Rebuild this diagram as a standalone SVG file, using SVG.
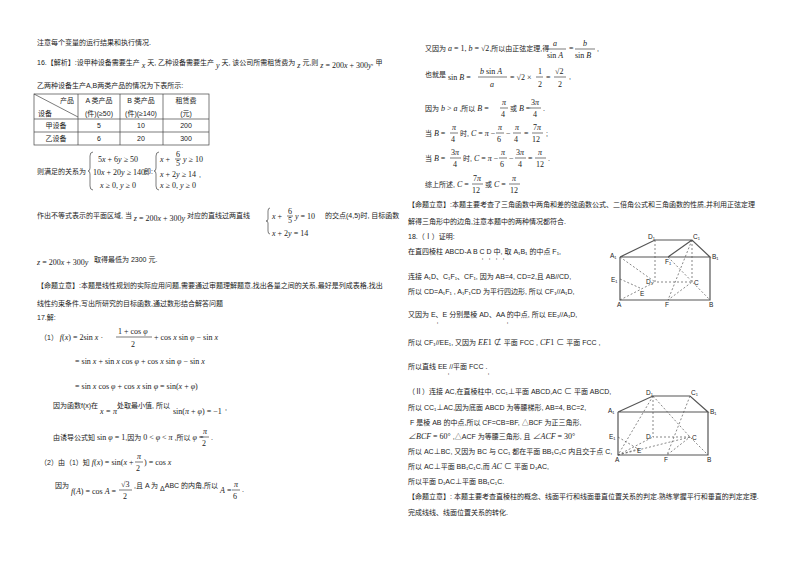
<svg xmlns="http://www.w3.org/2000/svg" width="800" height="565" viewBox="0 0 800 565">
<style>
text{font-family:"Liberation Sans","Noto Sans CJK SC",sans-serif;font-size:7px;fill:#222}
.m{font-family:"Liberation Serif","Noto Sans CJK SC",serif;font-size:8px}
.i{font-style:italic}
.s{stroke:#555;stroke-width:1.2;fill:none}
.d{stroke:#555;stroke-width:0.7;stroke-dasharray:2,2;fill:none}
.t{stroke:#444;stroke-width:0.7;fill:none}
.l{font-size:6.5px}
.k{font-size:4px}
</style>
<rect width="800" height="565" fill="#fff"/>
<!-- left column -->
<text x="37" y="45">注意每个变量的运行结果和执行情况.</text>
<text x="37" y="65">16.【解析】:设甲种设备需要生产 <tspan class="m i" dy="3">x</tspan><tspan dy="-3"> 天, 乙种设备需要生产 </tspan><tspan class="m i" dy="3">y</tspan><tspan dy="-3"> 天, 该公司所需租赁费为 </tspan><tspan class="m i" dy="3">z</tspan><tspan dy="-3"> 元,则 </tspan><tspan class="m i" dy="3">z</tspan><tspan class="m" dx="2">= 200</tspan><tspan class="m i">x</tspan><tspan class="m"> + 300</tspan><tspan class="m i">y</tspan><tspan dy="-3">, 甲</tspan></text>
<text x="37" y="88">乙两种设备生产A,B两类产品的情况为下表所示:</text>
<g id="table">
<rect class="t" x="34" y="94" width="175" height="51"/>
<line class="t" x1="34" y1="119" x2="209" y2="119"/>
<line class="t" x1="34" y1="132" x2="209" y2="132"/>
<line class="t" x1="78" y1="94" x2="78" y2="145"/>
<line class="t" x1="120" y1="94" x2="120" y2="145"/>
<line class="t" x1="163" y1="94" x2="163" y2="145"/>
<line class="t" x1="34" y1="94" x2="78" y2="117"/>
<text x="60" y="103">产品</text><text x="38" y="116">设备</text>
<text x="99" y="103" text-anchor="middle">A 类产品</text><text x="99" y="116" text-anchor="middle">(件)(≥50)</text>
<text x="141" y="103" text-anchor="middle">B 类产品</text><text x="141" y="116" text-anchor="middle">(件)(≥140)</text>
<text x="186" y="103" text-anchor="middle">租赁费</text><text x="186" y="116" text-anchor="middle">(元)</text>
<text x="56" y="128" text-anchor="middle">甲设备</text><text x="99" y="128" text-anchor="middle">5</text><text x="141" y="128" text-anchor="middle">10</text><text x="186" y="128" text-anchor="middle">200</text>
<text x="56" y="141" text-anchor="middle">乙设备</text><text x="99" y="141" text-anchor="middle">6</text><text x="141" y="141" text-anchor="middle">20</text><text x="186" y="141" text-anchor="middle">300</text>
</g>
<text x="37" y="174">则满足的关系为</text>
<path class="t" d="M93,152 q-3,0 -3,4 v12 q0,3 -2,3 q2,0 2,3 v12 q0,4 3,4"/>
<text class="m" x="98" y="162" font-size="7.5">5<tspan class="i">x</tspan> + 6<tspan class="i">y</tspan> ≥ 50</text>
<text class="m" x="93" y="175" font-size="7.5">10<tspan class="i">x</tspan> + 20<tspan class="i">y</tspan> ≥ 140</text>
<text class="m" x="100" y="188" font-size="7.5"><tspan class="i">x</tspan> ≥ 0, <tspan class="i">y</tspan> ≥ 0</text>
<text x="144" y="174">即:</text>
<path class="t" d="M159,152 q-3,0 -3,4 v12 q0,3 -2,3 q2,0 2,3 v12 q0,4 3,4"/>
<text class="m" x="160" y="162"><tspan class="i">x</tspan> + </text><text class="m" x="176" y="157" font-size="6">6</text><line class="t" x1="175" y1="159" x2="181" y2="159"/><text class="m" x="176" y="166" font-size="6">5</text><text class="m" x="183" y="162"><tspan class="i">y</tspan> ≥ 10</text>
<text class="m" x="160" y="177"><tspan class="i">x</tspan> + 2<tspan class="i">y</tspan> ≥ 14</text><text x="199" y="177">,</text>
<text class="m" x="160" y="188"><tspan class="i">x</tspan> ≥ 0, <tspan class="i">y</tspan> ≥ 0</text>

<text x="37" y="218">作出不等式表示的平面区域, 当 <tspan class="m i" dy="3">z</tspan><tspan class="m"> = 200</tspan><tspan class="m i">x</tspan><tspan class="m"> + 300</tspan><tspan class="m i">y</tspan><tspan dy="-3"> 对应的直线过两直线</tspan></text>
<path class="t" d="M270,208 q-2,0 -2,3 v8 q0,2 -2,2 q2,0 2,2 v8 q0,3 2,3"/>
<text class="m" x="272" y="219"><tspan class="i">x</tspan> + </text><text class="m" x="288" y="214" font-size="6">6</text><line class="t" x1="287" y1="216" x2="293" y2="216"/><text class="m" x="288" y="223" font-size="6">5</text><text class="m" x="295" y="219"><tspan class="i">y</tspan> = 10</text>
<text class="m" x="272" y="236"><tspan class="i">x</tspan> + 2<tspan class="i">y</tspan> = 14</text>
<text x="325" y="218">的交点(4,5)时, 目标函数</text>
<text class="m" x="37" y="265"><tspan class="i">z</tspan> = 200<tspan class="i">x</tspan> + 300<tspan class="i">y</tspan></text><text x="94" y="262">取得最低为 2300 元.</text>
<text x="37" y="288">【命题立意】:本题是线性规划的实际应用问题,需要通过审题理解题意,找出各量之间的关系,最好是列成表格,找出</text>
<text x="37" y="306">线性约束条件,写出所研究的目标函数,通过数形结合解答问题</text>
<text x="37" y="320">17.解:</text>
<text x="40" y="340">（1） <tspan class="m i">f</tspan><tspan class="m">(</tspan><tspan class="m i">x</tspan><tspan class="m">) = 2sin </tspan><tspan class="m i">x</tspan><tspan class="m"> ·</tspan></text>
<text class="m" x="118" y="334">1 + cos <tspan class="i">φ</tspan></text><line class="t" x1="116" y1="337" x2="152" y2="337"/><text class="m" x="131" y="347">2</text>
<text class="m" x="154" y="340">+ cos <tspan class="i">x</tspan> sin <tspan class="i">φ</tspan> − sin <tspan class="i">x</tspan></text>
<text class="m" x="75" y="364">= sin <tspan class="i">x</tspan> + sin <tspan class="i">x</tspan> cos <tspan class="i">φ</tspan> + cos <tspan class="i">x</tspan> sin <tspan class="i">φ</tspan> − sin <tspan class="i">x</tspan></text>
<text class="m" x="75" y="389">= sin <tspan class="i">x</tspan> cos <tspan class="i">φ</tspan> + cos <tspan class="i">x</tspan> sin <tspan class="i">φ</tspan>   = sin(<tspan class="i">x</tspan> + <tspan class="i">φ</tspan>)</text>
<text x="53" y="408">因为函数f(x)在</text><text class="m i" x="100" y="414">x = π</text><text x="117" y="408">处取最小值, 所以</text><text class="m" x="173" y="414">sin(<tspan class="i">π</tspan> + <tspan class="i">φ</tspan>) = −1</text><text x="225" y="410">,</text>
<text x="53" y="440">由诱导公式知 <tspan class="m">sin </tspan><tspan class="m i">φ</tspan><tspan class="m"> = 1</tspan>,因为 <tspan class="m">0 &lt; </tspan><tspan class="m i">φ</tspan><tspan class="m"> &lt; </tspan><tspan class="m i">π</tspan> ,所以 <tspan class="m i">φ</tspan><tspan class="m"> = </tspan></text>
<text class="m i" x="203" y="434">π</text><line class="t" x1="201" y1="437" x2="209" y2="437"/><text class="m" x="202" y="446">2</text><text x="211" y="440">.</text>
<text x="40" y="465">（2）由（1）知 <tspan class="m i">f</tspan><tspan class="m">(</tspan><tspan class="m i">x</tspan><tspan class="m">) = sin(</tspan><tspan class="m i">x</tspan><tspan class="m"> + </tspan></text>
<text class="m i" x="137" y="459">π</text><line class="t" x1="135" y1="462" x2="143" y2="462"/><text class="m" x="136" y="471">2</text><text class="m" x="144" y="465">) = cos <tspan class="i">x</tspan></text>
<text x="55" y="488">因为</text><text class="m" x="71" y="494"><tspan class="i">f</tspan>(<tspan class="i">A</tspan>) = cos <tspan class="i">A</tspan> = </text>
<text class="m" x="121" y="487">√3</text><line class="t" x1="119" y1="490" x2="132" y2="490"/><text class="m" x="123" y="499">2</text>
<text x="134" y="488">,且 A 为 <tspan dy="3">Δ</tspan><tspan dy="-3">ABC 的内角,所以 </tspan><tspan class="m i" dy="5">A</tspan><tspan class="m"> = </tspan></text>
<text class="m i" x="234" y="487">π</text><line class="t" x1="232" y1="490" x2="240" y2="490"/><text class="m" x="233" y="499">6</text><text x="242" y="492">.</text>

<!-- right column -->
<text x="425" y="51">又因为 <tspan class="m i">a</tspan><tspan class="m"> = 1, </tspan><tspan class="m i">b</tspan><tspan class="m"> = √2</tspan>,所以由正弦定理,得</text>
<text class="m i" x="553" y="46">a</text><line class="t" x1="546" y1="49" x2="566" y2="49"/><text class="m" x="547" y="58">sin <tspan class="i">A</tspan></text>
<text class="m" x="569" y="51">=</text>
<text class="m i" x="583" y="46">b</text><line class="t" x1="575" y1="49" x2="595" y2="49"/><text class="m" x="575" y="58">sin <tspan class="i">B</tspan></text><text x="597" y="51">,</text>
<text x="425" y="77">也就是</text><text class="m" x="448" y="80">sin <tspan class="i">B</tspan> =</text>
<text class="m" x="480" y="74"><tspan class="i">b</tspan> sin <tspan class="i">A</tspan></text><line class="t" x1="478" y1="77" x2="507" y2="77"/><text class="m i" x="490" y="87">a</text>
<text class="m" x="510" y="80">= √2 ×</text><text class="m" x="538" y="74">1</text><line class="t" x1="536" y1="77" x2="543" y2="77"/><text class="m" x="538" y="87">2</text>
<text class="m" x="546" y="80">=</text><text class="m" x="555" y="74">√2</text><line class="t" x1="554" y1="77" x2="566" y2="77"/><text class="m" x="558" y="87">2</text><text x="569" y="79">,</text>
<text x="425" y="111">因为 <tspan class="m i">b</tspan><tspan class="m"> &gt; </tspan><tspan class="m i">a</tspan> ,所以 <tspan class="m i">B</tspan><tspan class="m"> = </tspan></text>
<text class="m i" x="502" y="105">π</text><line class="t" x1="500" y1="108" x2="508" y2="108"/><text class="m" x="501" y="117">4</text>
<text x="510" y="111">或 <tspan class="m i">B</tspan><tspan class="m"> = </tspan></text><text class="m" x="531" y="105">3<tspan class="i">π</tspan></text><line class="t" x1="530" y1="108" x2="541" y2="108"/><text class="m" x="533" y="117">4</text><text x="543" y="111">.</text>
<text x="425" y="136">当 <tspan class="m i">B</tspan><tspan class="m"> = </tspan></text><text class="m i" x="452" y="130">π</text><line class="t" x1="450" y1="133" x2="458" y2="133"/><text class="m" x="451" y="142">4</text>
<text x="460" y="136">时, <tspan class="m i">C</tspan><tspan class="m"> = </tspan><tspan class="m i">π</tspan><tspan class="m"> − </tspan></text>
<text class="m i" x="498" y="130">π</text><line class="t" x1="496" y1="133" x2="504" y2="133"/><text class="m" x="497" y="142">6</text><text class="m" x="506" y="136">−</text>
<text class="m i" x="515" y="130">π</text><line class="t" x1="513" y1="133" x2="521" y2="133"/><text class="m" x="514" y="142">4</text><text class="m" x="524" y="136">=</text>
<text class="m" x="533" y="130">7<tspan class="i">π</tspan></text><line class="t" x1="532" y1="133" x2="543" y2="133"/><text class="m" x="532" y="142">12</text><text x="546" y="136">;</text>
<text x="425" y="161">当 <tspan class="m i">B</tspan><tspan class="m"> = </tspan></text><text class="m" x="451" y="155">3<tspan class="i">π</tspan></text><line class="t" x1="450" y1="158" x2="461" y2="158"/><text class="m" x="453" y="167">4</text>
<text x="463" y="161">时, <tspan class="m i">C</tspan><tspan class="m"> = </tspan><tspan class="m i">π</tspan><tspan class="m"> − </tspan></text>
<text class="m i" x="501" y="155">π</text><line class="t" x1="499" y1="158" x2="507" y2="158"/><text class="m" x="500" y="167">6</text><text class="m" x="509" y="161">−</text>
<text class="m" x="516" y="155">3<tspan class="i">π</tspan></text><line class="t" x1="515" y1="158" x2="526" y2="158"/><text class="m" x="518" y="167">4</text><text class="m" x="528" y="161">=</text>
<text class="m i" x="538" y="155">π</text><line class="t" x1="535" y1="158" x2="546" y2="158"/><text class="m" x="536" y="167">12</text><text x="548" y="161">.</text>
<text x="425" y="187">综上所述, <tspan class="m i">C</tspan><tspan class="m"> = </tspan></text><text class="m" x="473" y="181">7<tspan class="i">π</tspan></text><line class="t" x1="472" y1="184" x2="483" y2="184"/><text class="m" x="472" y="193">12</text>
<text x="485" y="187">或 <tspan class="m i">C</tspan><tspan class="m"> = </tspan></text><text class="m i" x="512" y="181">π</text><line class="t" x1="509" y1="184" x2="520" y2="184"/><text class="m" x="510" y="193">12</text>
<text x="408" y="207">【命题立意】:本题主要考查了三角函数中两角和差的弦函数公式、二倍角公式和三角函数的性质,并利用正弦定理</text>
<text x="408" y="224">解得三角形中的边角,注意本题中的两种情况都符合.</text>

<text x="408" y="239">18.（Ⅰ）证明:</text>
<text x="408" y="254">在直四棱柱 ABCD-A  B  C  D  中, 取 A₁B₁ 的中点 F₁,</text>
<text class="k" x="482" y="260">ı</text><text class="k" x="489" y="260">ı</text><text class="k" x="496" y="260">ı</text><text class="k" x="503" y="260">ı</text>
<text x="408" y="279">连接 A₁D、C₁F₁、CF₁, 因为 AB=4, CD=2,且 AB//CD,</text>
<text x="408" y="294">所以 CD=A₁F₁ , A₁F₁CD 为平行四边形, 所以 CF₁//A₁D,</text>
<text x="408" y="317">又因为 E、E  分别是棱 AD、AA  的中点, 所以 EE₁//A₁D,</text>
<text class="k" x="437" y="324">ı</text><text class="k" x="507" y="324">ı</text>
<text x="408" y="345">所以 CF₁//EE₁, 又因为 <tspan class="m i">EE</tspan><tspan class="m" font-size="5">1</tspan><tspan class="m"> ⊄ </tspan>平面 FCC  ,  <tspan class="m i">CF</tspan><tspan class="m" font-size="5">1</tspan><tspan class="m"> ⊂ </tspan>平面 FCC  ,</text>
<text x="408" y="369">所以直线 EE  //平面 FCC  .</text>
<text class="k" x="448" y="375">ı</text><text class="k" x="488" y="375">ı</text>

<g id="figure1">
<path class="s" d="M620,257 L655,240 L692,240 L710,257 L620,257 M620,257 V300 H710 V257 M692,240 L668,257"/>
<path class="d" d="M655,240 V282 H692 M692,240 V282 M620,257 L655,282 M620,300 L655,282 M620,279 L640,288 M692,240 L668,300 L692,282 M668,257 L710,300"/>
<text class="l" x="610" y="258">A₁</text><text class="l" x="712" y="259">B₁</text><text class="l" x="648" y="239">D₁</text><text class="l" x="693" y="239">C₁</text>
<text class="l" x="665" y="264">F₁</text><text class="l" x="611" y="282">E₁</text><text class="l" x="646" y="284">D₁</text><text class="l" x="694" y="285">C</text>
<text class="l" x="640" y="296">E</text><text class="l" x="617" y="307">A</text><text class="l" x="665" y="307">F</text><text class="l" x="709" y="307">B</text>
</g>

<text x="408" y="394">（Ⅱ）连接 AC,在直棱柱中, CC₁⊥平面 ABCD,AC <tspan class="m">⊂</tspan> 平面 ABCD,</text>
<text x="408" y="410">所以 CC₁⊥AC,因为底面 ABCD 为等腰梯形, AB=4, BC=2,</text>
<text x="410" y="425">F 是棱 AB 的中点,所以 CF=CB=BF, △BCF 为正三角形,</text>
<text x="408" y="439"><tspan class="m i">∠BCF</tspan><tspan class="m"> = 60°</tspan> ,△ACF 为等腰三角形, 且 <tspan class="m i">∠ACF</tspan><tspan class="m"> = 30°</tspan></text>
<text x="408" y="454">所以 AC⊥BC, 又因为 BC 与 CC₁ 都在平面 BB₁C₁C 内且交于点 C,</text>
<text x="408" y="469">所以 AC⊥平面 BB₁C₁C,而 <tspan class="m i">AC</tspan><tspan class="m"> ⊂ </tspan>平面 D₁AC,</text>
<text x="408" y="484">所以平面 D₁AC⊥平面 BB₁C₁C.</text>
<text x="408" y="499">【命题立意】: 本题主要考查直棱柱的概念、线面平行和线面垂直位置关系的判定.熟练掌握平行和垂直的判定定理.</text>
<text x="408" y="515">完成线线、线面位置关系的转化.</text>

<g id="figure2">
<path class="s" d="M618,412 L653,396 L690,396 L708,412 L618,412 M618,412 V455 H708 V412"/>
<path class="d" d="M653,396 V437 H690 M653,396 L618,455 M653,396 L690,437 L708,455 M690,396 L667,455 L690,437 M618,455 L690,437 M618,455 L653,437 M618,437 L638,449 M618,455 L638,449"/>
<text class="l" x="608" y="413">A₁</text><text class="l" x="710" y="414">B₁</text><text class="l" x="646" y="395">D₁</text><text class="l" x="691" y="395">C₁</text>
<text class="l" x="609" y="439">E₁</text><text class="l" x="646" y="439">D</text><text class="l" x="692" y="440">C</text>
<text class="l" x="637" y="453">E</text><text class="l" x="615" y="462">A</text><text class="l" x="664" y="462">F</text><text class="l" x="707" y="462">B</text>
</g>
</svg>
